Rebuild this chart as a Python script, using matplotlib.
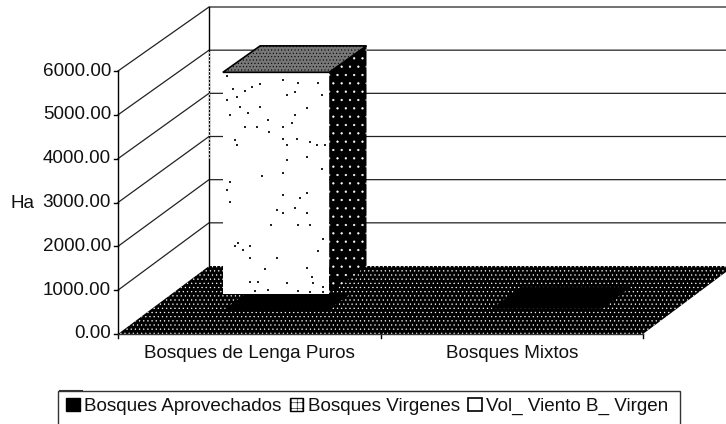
import matplotlib
matplotlib.use("Agg")
import matplotlib.pyplot as plt
from matplotlib.patches import Patch, Polygon, Rectangle

plt.rcParams['font.family'] = ['Liberation Sans', 'DejaVu Sans']
plt.rcParams['hatch.linewidth'] = 0.4

CATEGORIES = ['Bosques de Lenga Puros', 'Bosques Mixtos']
SERIES = ['Bosques Aprovechados', 'Bosques Virgenes', 'Vol_ Viento B_ Virgen']
VOL_VIENTO = [5100.0, 0.0]
TICKS = [0, 1000, 2000, 3000, 4000, 5000, 6000]
Y_LABEL = 'Ha'
FS = 13.6

# scanner specks on the white bar face, picture pixels
SPECK_X = [227, 252, 260, 283, 298, 318, 233, 245, 287, 295, 322, 227, 237, 240, 230, 248, 260, 268,
           295, 307, 292, 245, 257, 283, 269, 235, 237, 283, 297, 310, 317, 325, 287, 307, 287, 322,
           262, 283, 230, 227, 283, 307, 230, 300, 277, 295, 283, 307, 271, 298, 310, 323, 238, 235,
           250, 243, 250, 277, 318, 265, 307, 312, 250, 258, 287, 313, 255, 268, 298, 310, 323, 323]
SPECK_Y = [76, 87, 84, 80, 83, 83, 89, 91, 95, 92, 95, 100, 97, 107, 115, 113, 107, 120,
           115, 108, 123, 127, 127, 127, 132, 140, 145, 139, 139, 142, 145, 145, 145, 157, 160, 169,
           176, 173, 182, 190, 195, 193, 202, 198, 210, 208, 213, 213, 225, 225, 225, 239, 243, 246,
           246, 250, 258, 258, 251, 269, 268, 277, 282, 282, 283, 283, 291, 290, 291, 292, 287, 292]


# oblique projection of (category, value, depth) onto the picture
X0, Y0 = 118, 334
CAT_W = 262.5
DEPTH_X = 91
PX_PER_UNIT = 263 / 6000


def proj(c, v, d):
    dy = 68 - 4 * v / 6000
    return X0 + CAT_W * c + DEPTH_X * d, Y0 - PX_PER_UNIT * v - dy * d


def main():
    fig = plt.figure(figsize=(7.26, 4.24), dpi=100)
    ax = fig.add_axes([0, 0, 1, 1])
    ax.set_xlim(0, 726)
    ax.set_ylim(424, 0)
    ax.axis('off')

    n = len(CATEGORIES)
    # walls and gridlines
    for v in TICKS:
        xs, ys = zip(proj(0, v, 0), proj(0, v, 1), proj(n, v, 1))
        if v > 0:
            ax.plot(xs, ys, color='#222222', lw=0.9, zorder=1)
        x, y = proj(0, v, 0)
        ax.plot([x - 4, x], [y, y], color='black', lw=1.0, zorder=5)
        ax.text(x - 7, y, f'{v:.2f}', ha='right', va='center', fontsize=FS, color='#111111')
    for p, q in [(proj(0, 0, 0), proj(0, 6000, 0)), (proj(0, 0, 1), proj(0, 6000, 1))]:
        ax.plot([p[0], q[0]], [p[1], q[1]], color='black', lw=1.0, zorder=1)
    ax.plot(*zip(proj(0, 2500, 1), proj(0, 5000, 1)), color='white', lw=0.9, ls=(0, (1, 2)), zorder=1.5)
    ax.text(10, 203, Y_LABEL, ha='left', va='center', fontsize=FS, color='#111111')

    # floor
    floor = [proj(0, 0, 0), proj(n, 0, 0), proj(n, 0, 1), proj(0, 0, 1)]
    ax.add_patch(Polygon(floor, facecolor='black', edgecolor='white', hatch='....', lw=0, zorder=2))
    label_c = [0.5, 1.5]
    for i in range(n + 1):
        x, y = proj(i, 0, 0)
        ax.plot([x, x], [y, y + 4], color='black', lw=1.0, zorder=5)
    for i in range(n):
        ax.text(proj(label_c[i], 0, 0)[0], Y0 + 19, CATEGORIES[i], ha='center', va='center',
                fontsize=FS, color='#111111')
    ax.plot(*zip(proj(0, 0, 0), proj(n, 0, 0)), color='#333333', lw=1.0, zorder=5)

    # flat bars lying on the floor
    for c0, c1, d0, d1 in [(0.28, 0.68, 0.33, 0.59), (1.295, 1.715, 0.37, 0.69)]:
        flat = [proj(c0, 0, d0), proj(c1, 0, d0), proj(c1, 0, d1), proj(c0, 0, d1)]
        ax.add_patch(Polygon(flat, facecolor='black', lw=0, zorder=3))

    # the one tall bar
    c0, c1, d0, d1 = 0.195, 0.6, 0.59, 1.0
    v = VOL_VIENTO[0]
    front = [proj(c0, 0, d0), proj(c1, 0, d0), proj(c1, v, d0), proj(c0, v, d0)]
    side = [proj(c1, 0, d0), proj(c1, 0, d1), proj(c1, v, d1), proj(c1, v, d0)]
    top = [proj(c0, v, d0), proj(c1, v, d0), proj(c1, v, d1), proj(c0, v, d1)]
    ax.add_patch(Polygon(side, facecolor='black', edgecolor='white', hatch='..', lw=0, zorder=4))
    ax.add_patch(Polygon(front, facecolor='white', lw=0, zorder=4))
    ax.scatter(SPECK_X, SPECK_Y, s=1.2, color='#222222', marker='s', lw=0, zorder=4.5)
    ax.add_patch(Polygon(top, facecolor='#777777', edgecolor='black', hatch='.....', lw=0, zorder=4))
    ax.add_patch(Polygon(top, facecolor='none', edgecolor='black', lw=1.2, zorder=4))

    # scrap of a line just above the legend, then the legend box running off the bottom edge
    ax.plot([59, 82], [389.5, 389.5], color='#333333', lw=0.8, zorder=1)
    ax.add_patch(Rectangle((58, 391), 622, 45, facecolor='white', edgecolor='#333333', lw=1.0, zorder=6))

    handles = [
        Patch(facecolor='black', edgecolor='black', label=SERIES[0]),
        Patch(facecolor='white', edgecolor='black', hatch='+++', label=SERIES[1]),
        Patch(facecolor='white', edgecolor='black', lw=1.2, label=SERIES[2]),
    ]
    leg = ax.legend(handles=handles, ncol=3, loc='upper left', bbox_to_anchor=(66 / 726, 1 - 397.5 / 424),
                    fontsize=FS, frameon=False,
                    handlelength=0.72, handleheight=0.72, handletextpad=0.25, columnspacing=0.42,
                    borderaxespad=0, borderpad=0, labelcolor='#111111')
    leg.set_zorder(7)

    fig.savefig('out.png', dpi=100)


if __name__ == "__main__":
    main()
